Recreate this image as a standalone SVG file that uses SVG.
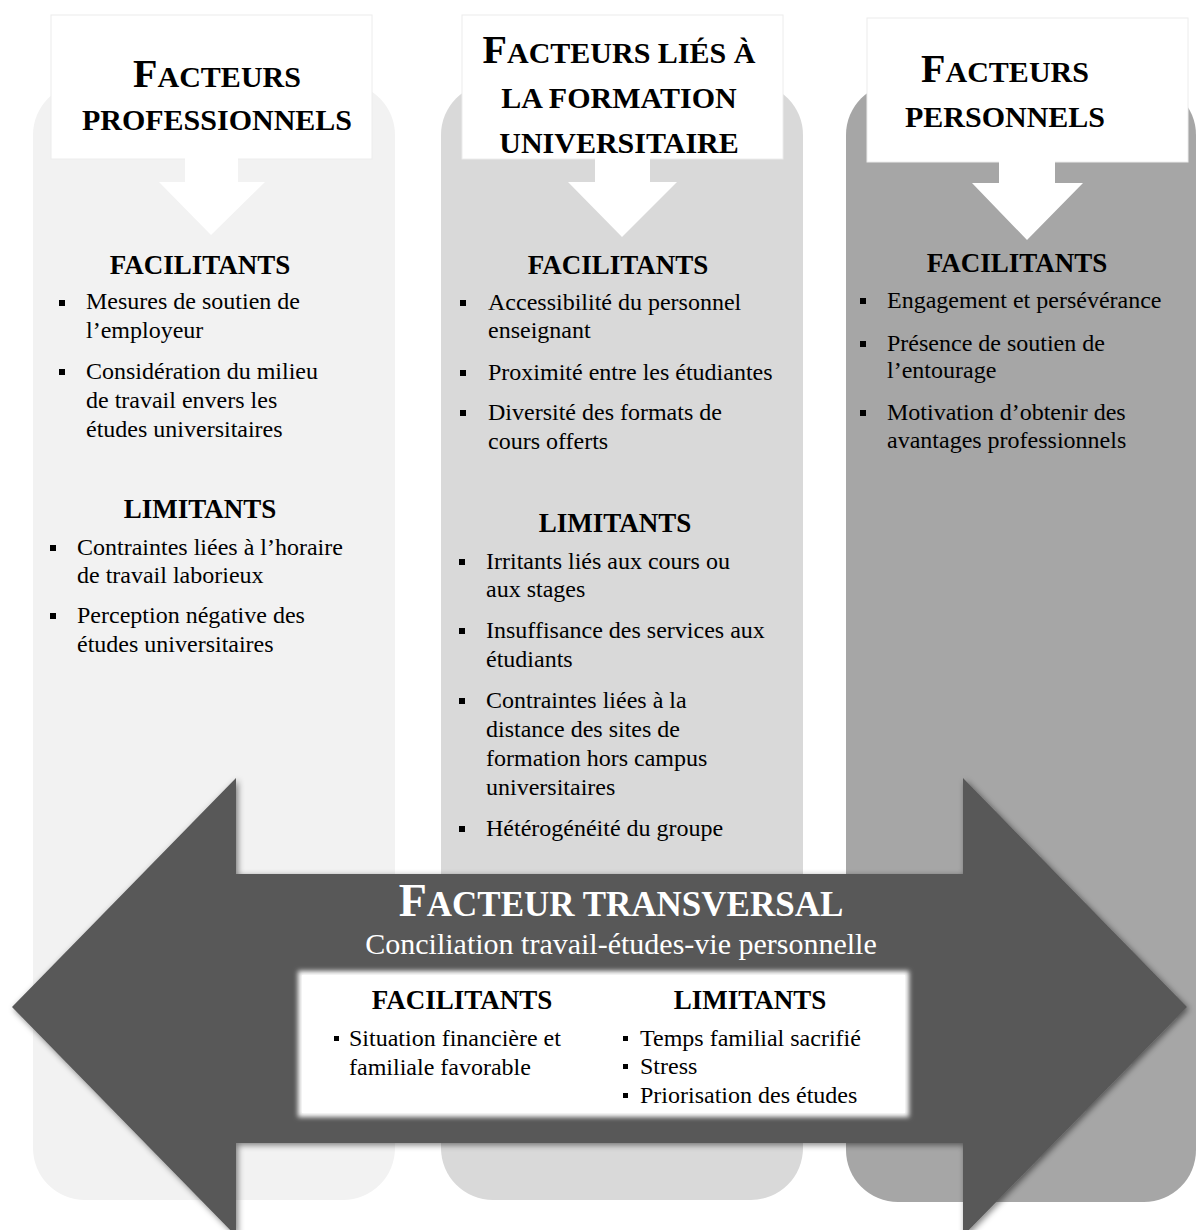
<svg xmlns="http://www.w3.org/2000/svg" width="1196" height="1230" viewBox="0 0 1196 1230">
<style>
text{font-family:"Liberation Serif","Times New Roman",serif;fill:#000}
.hd{font-weight:bold;font-size:30px;text-anchor:middle}
.big{font-size:40px}
.sub{font-weight:bold;font-size:27px;text-anchor:middle}
.it{font-size:24px}
.w{fill:#fff}
.hbox{fill:#fff;stroke:#ececec;stroke-width:1}
</style>
<defs>
<filter id="sh" x="-5%" y="-5%" width="110%" height="110%">
<feGaussianBlur in="SourceAlpha" stdDeviation="3"/>
<feOffset dx="2" dy="2" result="b"/>
<feComponentTransfer><feFuncA type="linear" slope="0.5"/></feComponentTransfer>
<feMerge><feMergeNode/><feMergeNode in="SourceGraphic"/></feMerge>
</filter>
<filter id="soft" x="-5%" y="-10%" width="110%" height="120%">
<feGaussianBlur stdDeviation="2.5"/>
</filter>
<g id="bl"><rect x="-3" y="-3" width="6" height="6"/></g>
</defs>
<rect width="1196" height="1230" fill="#fff"/>

<g id="col-professionnels">
<rect x="33" y="83" width="362" height="1117" rx="52" fill="#f2f2f2"/>
<rect class="hbox" x="51" y="15" width="321" height="144"/>
<text class="hd" x="217" y="87"><tspan class="big">F</tspan>ACTEURS</text>
<text class="hd" x="217" y="130">PROFESSIONNELS</text>
<text class="sub" x="200" y="274">FACILITANTS</text>
<use href="#bl" x="62" y="303"/>
<use href="#bl" x="62" y="372"/>
<text class="it" x="86" y="309">Mesures de soutien de</text>
<text class="it" x="86" y="338">l’employeur</text>
<text class="it" x="86" y="379">Considération du milieu</text>
<text class="it" x="86" y="408">de travail envers les</text>
<text class="it" x="86" y="437">études universitaires</text>
<text class="sub" x="200" y="518">LIMITANTS</text>
<use href="#bl" x="53" y="548"/>
<use href="#bl" x="53" y="616"/>
<text class="it" x="77" y="555">Contraintes liées à l’horaire</text>
<text class="it" x="77" y="583">de travail laborieux</text>
<text class="it" x="77" y="623">Perception négative des</text>
<text class="it" x="77" y="652">études universitaires</text>
</g>

<g id="col-formation">
<rect x="441" y="83" width="362" height="1117" rx="52" fill="#d9d9d9"/>
<rect class="hbox" x="462" y="15" width="321" height="144"/>
<text class="hd" x="619" y="63"><tspan class="big">F</tspan>ACTEURS LIÉS À</text>
<text class="hd" x="619" y="108">LA FORMATION</text>
<text class="hd" x="619" y="153">UNIVERSITAIRE</text>
<text class="sub" x="618" y="274">FACILITANTS</text>
<use href="#bl" x="463" y="303"/>
<use href="#bl" x="463" y="373"/>
<use href="#bl" x="463" y="413"/>
<text class="it" x="488" y="310">Accessibilité du personnel</text>
<text class="it" x="488" y="338">enseignant</text>
<text class="it" x="488" y="380">Proximité entre les étudiantes</text>
<text class="it" x="488" y="420">Diversité des formats de</text>
<text class="it" x="488" y="449">cours offerts</text>
<text class="sub" x="615" y="532">LIMITANTS</text>
<use href="#bl" x="462" y="562"/>
<use href="#bl" x="462" y="631"/>
<use href="#bl" x="462" y="701"/>
<use href="#bl" x="462" y="829"/>
<text class="it" x="486" y="569">Irritants liés aux cours ou</text>
<text class="it" x="486" y="597">aux stages</text>
<text class="it" x="486" y="638">Insuffisance des services aux</text>
<text class="it" x="486" y="667">étudiants</text>
<text class="it" x="486" y="708">Contraintes liées à la</text>
<text class="it" x="486" y="737">distance des sites de</text>
<text class="it" x="486" y="766">formation hors campus</text>
<text class="it" x="486" y="795">universitaires</text>
<text class="it" x="486" y="836">Hétérogénéité du groupe</text>
</g>

<g id="col-personnels">
<rect x="846" y="83" width="350" height="1119" rx="52" fill="#a6a6a6"/>
<rect class="hbox" x="867" y="18" width="321" height="144"/>
<text class="hd" x="1005" y="82"><tspan class="big">F</tspan>ACTEURS</text>
<text class="hd" x="1005" y="127">PERSONNELS</text>
<text class="sub" x="1017" y="272">FACILITANTS</text>
<use href="#bl" x="863" y="301"/>
<use href="#bl" x="863" y="344"/>
<use href="#bl" x="863" y="413"/>
<text class="it" x="887" y="308">Engagement et persévérance</text>
<text class="it" x="887" y="351">Présence de soutien de</text>
<text class="it" x="887" y="378">l’entourage</text>
<text class="it" x="887" y="420">Motivation d’obtenir des</text>
<text class="it" x="887" y="448">avantages professionnels</text>
</g>

<g id="connectors" fill="#fff">
<polygon points="185,158 238,158 238,182 265,182 211,235 159,182 185,182"/>
<polygon points="595,158 650,158 650,182 677,182 622,237 568,182 595,182"/>
<polygon points="999,161 1055,161 1055,183 1083,183 1027,240 972,183 999,183"/>
</g>

<g id="transversal">
<polygon points="12,1007 236,778 236,874 963,874 963,778 1187,1007 963,1236 963,1143 236,1143 236,1236" fill="#595959" filter="url(#sh)"/>
<text class="w" x="621" y="916" font-weight="bold" font-size="35" text-anchor="middle"><tspan font-size="46">F</tspan>ACTEUR TRANSVERSAL</text>
<text class="w" x="621" y="954" font-size="30" text-anchor="middle">Conciliation travail-études-vie personnelle</text>
<rect x="298" y="971" width="611" height="146" fill="#fff" filter="url(#soft)"/>
<rect x="302" y="975" width="603" height="138" fill="#fff"/>
<text class="sub" x="462" y="1009">FACILITANTS</text>
<text class="sub" x="750" y="1009">LIMITANTS</text>
<rect x="334" y="1036" width="5" height="5"/>
<text class="it" x="349" y="1046">Situation financière et</text>
<text class="it" x="349" y="1075">familiale favorable</text>
<rect x="623" y="1036" width="5" height="5"/>
<rect x="623" y="1064" width="5" height="5"/>
<rect x="623" y="1093" width="5" height="5"/>
<text class="it" x="640" y="1046">Temps familial sacrifié</text>
<text class="it" x="640" y="1074">Stress</text>
<text class="it" x="640" y="1103">Priorisation des études</text>
</g>
</svg>
